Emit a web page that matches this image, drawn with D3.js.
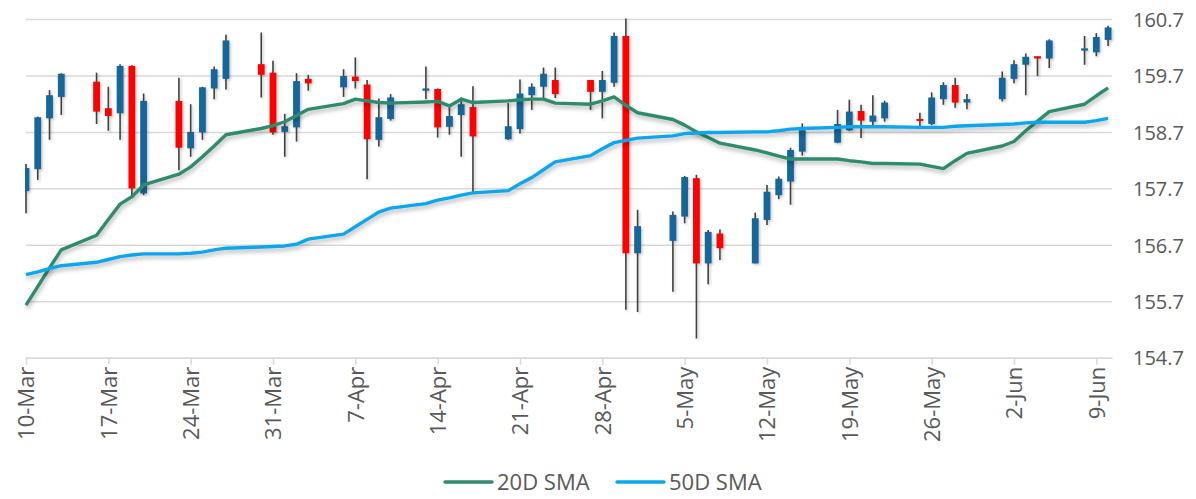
<!DOCTYPE html>
<html>
<head>
<meta charset="utf-8">
<script src="https://cdn.jsdelivr.net/npm/d3@7"></script>
<style>
  html, body { margin: 0; padding: 0; background: #ffffff; }
  svg { display: block; }
  text { font-family: "Open Sans", Roboto, sans-serif; fill: #595959; }
</style>
</head>
<body>
<svg id="chart" width="1196" height="499"></svg>
<script>
const dates = ["2025-03-10","2025-03-11","2025-03-12","2025-03-13","2025-03-16","2025-03-17","2025-03-18","2025-03-19","2025-03-20",
  "2025-03-23","2025-03-24","2025-03-25","2025-03-26","2025-03-27","2025-03-30","2025-03-31","2025-04-01","2025-04-02","2025-04-03",
  "2025-04-06","2025-04-07","2025-04-08","2025-04-09","2025-04-10","2025-04-13","2025-04-14","2025-04-15","2025-04-16","2025-04-17",
  "2025-04-20","2025-04-21","2025-04-22","2025-04-23","2025-04-24","2025-04-27","2025-04-28","2025-04-29","2025-04-30","2025-05-01",
  "2025-05-04","2025-05-05","2025-05-06","2025-05-07","2025-05-08","2025-05-11","2025-05-12","2025-05-13","2025-05-14","2025-05-15",
  "2025-05-18","2025-05-19","2025-05-20","2025-05-21","2025-05-22","2025-05-25","2025-05-26","2025-05-27","2025-05-28","2025-05-29",
  "2025-06-01","2025-06-02","2025-06-03","2025-06-04","2025-06-05","2025-06-08","2025-06-09","2025-06-10"];

const openV = [157.65,158.04,158.94,159.32,159.59,159.12,159.03,159.87,157.61,
  159.25,158.41,158.69,159.47,159.64,159.90,159.75,158.70,158.78,159.64,
  159.49,159.68,159.54,158.56,158.93,159.43,159.46,158.79,159.00,159.14,
  158.57,158.75,159.35,159.50,159.62,159.62,159.41,159.57,160.40,156.55,
  156.77,157.20,157.88,156.37,156.90,156.37,157.14,157.58,157.82,158.35,
  158.51,158.73,159.07,158.88,158.94,158.93,158.84,159.28,159.53,159.22,
  159.28,159.64,159.89,160.04,160.00,160.14,160.11,160.33];

const highV = [158.13,158.97,159.44,159.74,159.75,159.50,159.90,159.88,159.38,
  159.66,159.19,159.50,159.86,160.42,160.46,159.96,159.02,159.74,159.71,
  159.81,160.02,159.62,159.29,159.37,159.86,159.47,159.14,159.31,159.51,
  159.21,159.63,159.56,159.84,159.84,159.62,159.78,160.46,160.71,157.32,
  157.29,157.92,157.94,156.96,156.97,157.27,157.76,157.91,158.42,158.85,
  159.09,159.27,159.18,159.35,159.25,159.04,159.40,159.58,159.66,159.37,
  159.77,159.97,160.09,160.04,160.34,160.40,160.45,160.58];

const lowV = [157.26,157.85,158.56,159.00,158.84,158.72,158.56,157.55,157.58,
  158.02,158.26,158.56,159.28,159.45,159.31,158.65,158.26,158.53,159.43,
  159.32,159.47,157.86,158.44,158.90,159.28,158.60,158.65,158.26,157.61,
  158.56,158.67,159.09,159.28,159.30,159.09,158.94,159.50,155.55,155.51,
  155.87,157.08,155.04,156.00,156.43,156.37,157.05,157.51,157.41,158.28,
  158.50,158.72,158.59,158.82,158.88,158.79,158.82,159.18,159.13,159.10,
  159.24,159.56,159.35,159.69,159.83,159.89,160.04,160.22];

const closeV = [158.06,158.96,159.35,159.73,159.06,158.98,159.87,157.70,159.25,
  158.42,158.70,159.49,159.81,160.32,159.71,158.69,158.80,159.60,159.56,
  159.69,159.60,158.57,158.96,159.31,159.47,158.78,158.98,159.19,158.62,
  158.80,159.38,159.50,159.73,159.37,159.41,159.62,160.40,156.55,157.03,
  157.23,157.90,156.37,156.93,156.64,157.17,157.64,157.87,158.38,158.73,
  158.84,159.06,158.90,158.99,159.22,158.90,159.31,159.53,159.22,159.28,
  159.66,159.90,160.03,160.00,160.32,160.18,160.38,160.55];

const sma20 = [155.63,155.96,156.29,156.61,156.87,157.15,157.42,157.55,157.76,
  157.95,158.08,158.26,158.45,158.65,158.76,158.81,158.88,158.99,159.10,
  159.20,159.28,159.25,159.22,159.21,159.23,159.24,159.16,159.28,159.22,
  159.25,159.27,159.28,159.28,159.21,159.19,159.25,159.32,159.17,159.04,
  158.92,158.82,158.70,158.60,158.50,158.38,158.33,158.27,158.22,158.22,
  158.22,158.19,158.17,158.14,158.14,158.13,158.09,158.05,158.19,158.32,
  158.45,158.53,158.72,158.89,159.06,159.19,159.34,159.48];

const sma50 = [156.17,156.22,156.28,156.33,156.39,156.44,156.49,156.52,156.54,
  156.54,156.55,156.57,156.61,156.64,156.66,156.67,156.68,156.71,156.80,
  156.89,157.02,157.15,157.28,157.35,157.43,157.49,157.53,157.58,157.62,
  157.66,157.78,157.89,158.03,158.17,158.28,158.40,158.51,158.55,158.59,
  158.63,158.67,158.68,158.69,158.69,158.70,158.70,158.72,158.75,158.76,
  158.78,158.79,158.79,158.79,158.79,158.78,158.78,158.78,158.80,158.81,
  158.83,158.84,158.86,158.87,158.87,158.87,158.90,158.94];

const yTicks = [154.7,155.7,156.7,157.7,158.7,159.7,160.7];
const xTickDates = ["2025-03-10","2025-03-17","2025-03-24","2025-03-31","2025-04-07","2025-04-14","2025-04-21",
  "2025-04-28","2025-05-05","2025-05-12","2025-05-19","2025-05-26","2025-06-02","2025-06-09"];
const seriesNames = ["20D SMA","50D SMA"];

const parse = d3.timeParse("%Y-%m-%d");
const fmt = d3.timeFormat("%-d-%b");
const data = dates.map((d,i)=>({date:parse(d), o:openV[i], h:highV[i], l:lowV[i], c:closeV[i], s20:sma20[i], s50:sma50[i]}));

const svg = d3.select("#chart");
const plotL = 26, plotR = 1112, plotT = 19, plotB = 357.7;

const x = d3.scaleTime()
  .domain([parse("2025-03-10"), d3.timeHour.offset(parse("2025-06-10"), 8.4)])
  .range([plotL, plotR]);
const y = d3.scaleLinear().domain([154.7, 160.7]).range([plotB, plotT]);

const defs = svg.append("defs");
const sh = defs.append("filter").attr("id","shadow").attr("x","-5%").attr("y","-20%").attr("width","110%").attr("height","160%");
sh.append("feDropShadow").attr("dx",1).attr("dy",3).attr("stdDeviation",2).attr("flood-color","#000").attr("flood-opacity",0.28);
const sh2 = defs.append("filter").attr("id","shadow2").attr("x","-50%").attr("y","-10%").attr("width","200%").attr("height","130%");
sh2.append("feDropShadow").attr("dx",1.5).attr("dy",1.5).attr("stdDeviation",1.2).attr("flood-color","#000").attr("flood-opacity",0.22);
defs.append("clipPath").attr("id","plotclip").append("rect")
  .attr("x", plotL - 1).attr("y", 0).attr("width", plotR - plotL + 12).attr("height", plotB + 2);

// gridlines
const yAxis = d3.axisRight(y).tickValues(yTicks).tickSize(-(plotR - plotL)).tickFormat(d3.format(".1f"));
const gy = svg.append("g").attr("transform", `translate(${plotR},0)`).call(yAxis);
gy.select(".domain").remove();
gy.selectAll(".tick line").attr("stroke","#d9d9d9").attr("stroke-width",1.5);
gy.selectAll(".tick text").attr("x", 21).attr("dy","0.36em")
  .style("font-size","20px").style("fill","#595959").attr("text-anchor","start");

// x axis
const xAxis = d3.axisBottom(x).tickValues(xTickDates.map(parse)).tickFormat(fmt).tickSize(7).tickSizeOuter(0);
const gx = svg.append("g").attr("transform", `translate(0,${plotB})`).call(xAxis);
gx.select(".domain").attr("stroke","#d9d9d9").attr("stroke-width",1.5);
gx.selectAll(".tick line").attr("stroke","#d9d9d9").attr("stroke-width",1.5);
gx.selectAll(".tick text")
  .attr("transform","rotate(-90)")
  .attr("x",-9).attr("y",0).attr("dy","0.35em")
  .attr("text-anchor","end")
  .style("font-size","22px").style("fill","#595959");

// candles
const bw = 6.8;
const cg = svg.append("g").attr("clip-path","url(#plotclip)").append("g").attr("filter","url(#shadow2)");
const candle = cg.selectAll("g.c").data(data).join("g").attr("class","c");
candle.append("line")
  .attr("x1", d=>x(d.date)).attr("x2", d=>x(d.date))
  .attr("y1", d=>y(d.h)).attr("y2", d=>y(d.l))
  .attr("stroke","#404040").attr("stroke-width",1.6);
candle.append("rect")
  .attr("x", d=>x(d.date)-bw/2).attr("width", bw)
  .attr("y", d=>y(Math.max(d.o,d.c)))
  .attr("height", d=>Math.max(2, Math.abs(y(d.o)-y(d.c))))
  .attr("fill", d=> d.c >= d.o ? "#136699" : "#ff0000");

// SMA lines
const colors = ["#2e8b6e","#0aa6ee"];
const keys = ["s20","s50"];
keys.forEach((k,i)=>{
  svg.append("path").datum(data)
    .attr("fill","none").attr("stroke",colors[i]).attr("stroke-width",3.4)
    .attr("stroke-linejoin","round")
    .attr("filter","url(#shadow)")
    .attr("d", d3.line().x(d=>x(d.date)).y(d=>y(d[k])));
});

// legend
const legX = [445, 617];
const lg = svg.append("g");
seriesNames.forEach((name,i)=>{
  lg.append("line").attr("x1",legX[i]).attr("x2",legX[i]+47).attr("y1",482).attr("y2",482)
    .attr("stroke",colors[i]).attr("stroke-width",3.4).attr("stroke-linecap","round");
  lg.append("text").attr("x",legX[i]+52).attr("y",489.5).text(name)
    .style("font-size","22px").style("fill","#595959");
});
</script>
</body>
</html>
